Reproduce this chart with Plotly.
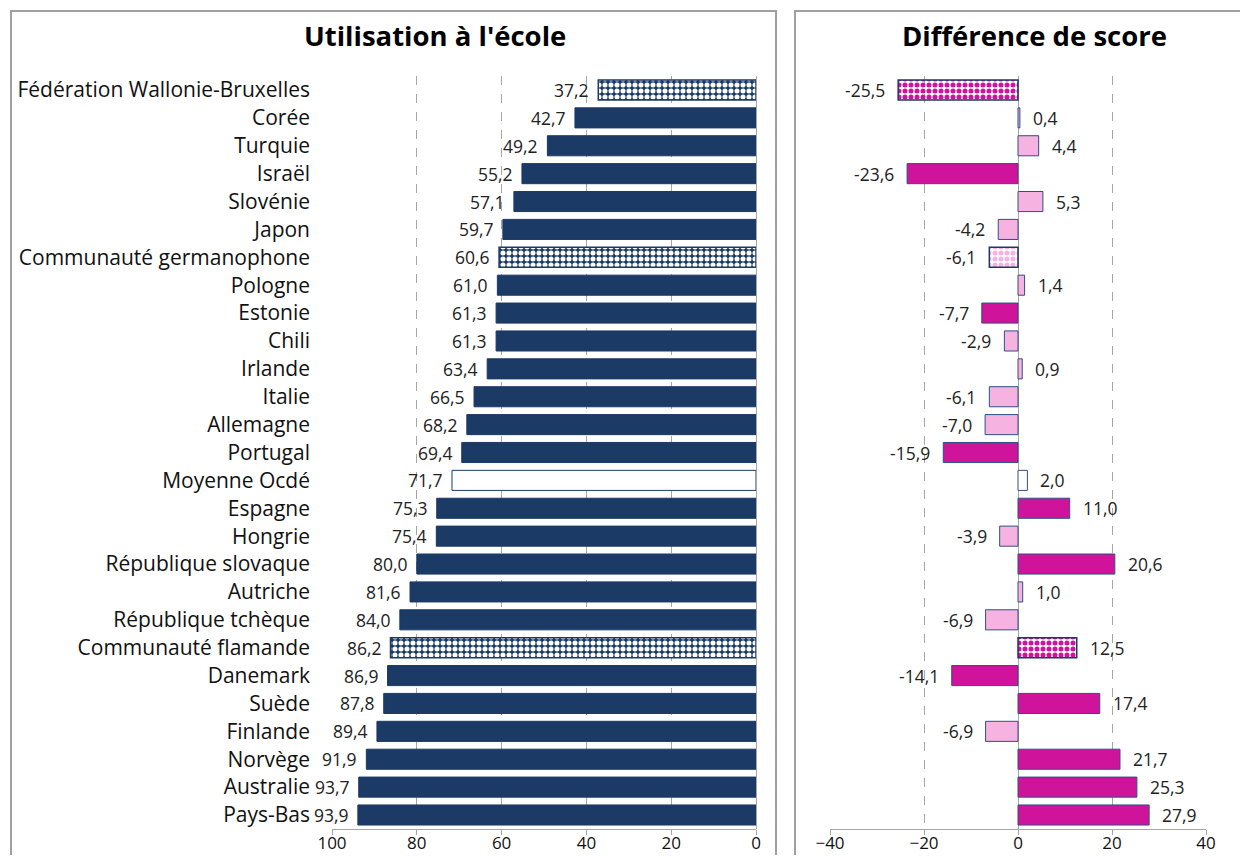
import plotly.graph_objects as go

countries = [
    "Fédération Wallonie-Bruxelles", "Corée", "Turquie", "Israël", "Slovénie", "Japon",
    "Communauté germanophone", "Pologne", "Estonie", "Chili", "Irlande", "Italie",
    "Allemagne", "Portugal", "Moyenne Ocdé", "Espagne", "Hongrie", "République slovaque",
    "Autriche", "République tchèque", "Communauté flamande", "Danemark", "Suède",
    "Finlande", "Norvège", "Australie", "Pays-Bas",
]
usage = [37.2, 42.7, 49.2, 55.2, 57.1, 59.7, 60.6, 61.0, 61.3, 61.3, 63.4, 66.5, 68.2, 69.4,
         71.7, 75.3, 75.4, 80.0, 81.6, 84.0, 86.2, 86.9, 87.8, 89.4, 91.9, 93.7, 93.9]
score_diff = [-25.5, 0.4, 4.4, -23.6, 5.3, -4.2, -6.1, 1.4, -7.7, -2.9, 0.9, -6.1, -7.0, -15.9,
              2.0, 11.0, -3.9, 20.6, 1.0, -6.9, 12.5, -14.1, 17.4, -6.9, 21.7, 25.3, 27.9]
significant = [True, False, False, True, False, False, False, False, True, False, False, False,
               False, True, False, True, False, True, False, False, True, True, True, False,
               True, True, True]
entity = ["belgium", "country", "country", "country", "country", "country", "belgium",
          "country", "country", "country", "country", "country", "country", "country", "oecd",
          "country", "country", "country", "country", "country", "belgium", "country",
          "country", "country", "country", "country", "country"]

NAVY = "#1B3A66"
MAGENTA = "#D0139B"
LIGHT = "#F6B3E1"
GRID = "#A6A6A6"
FONT = "Open Sans"
OFF = 8  # page body margin
W, H = 1248 - 2 * OFF, 863 - 2 * OFF


def fmt(v):
    return f"{v:.1f}".replace(".", ",")


def px_x(p):
    return (p - OFF) / W


def px_y(p):
    return 1 - (p - OFF) / H


ydom = [px_y(829), px_y(76)]
fig = go.Figure()

idx_c = [i for i, e in enumerate(entity) if e == "country"]
idx_b = [i for i, e in enumerate(entity) if e == "belgium"]
idx_o = [i for i, e in enumerate(entity) if e == "oecd"]

common = dict(orientation="h", width=0.72, showlegend=False, hoverinfo="skip")

# ---- left panel ----
fig.add_trace(go.Bar(x=[usage[i] for i in idx_c], y=[countries[i] for i in idx_c],
                     marker=dict(color=NAVY, line=dict(color=NAVY, width=1)),
                     xaxis="x", yaxis="y", **common))
fig.add_trace(go.Bar(x=[usage[i] for i in idx_b], y=[countries[i] for i in idx_b],
                     marker=dict(color=NAVY, line=dict(color=NAVY, width=1.5),
                                 pattern=dict(shape=".", fgcolor="white", bgcolor=NAVY,
                                              size=6, solidity=0.55, fillmode="replace")),
                     xaxis="x", yaxis="y", **common))
fig.add_trace(go.Bar(x=[usage[i] for i in idx_o], y=[countries[i] for i in idx_o],
                     marker=dict(color="white", line=dict(color=NAVY, width=1)),
                     xaxis="x", yaxis="y", **common))


# ---- right panel ----
def diff_color(i):
    if entity[i] == "oecd":
        return "white"
    return MAGENTA if significant[i] else LIGHT


fig.add_trace(go.Bar(x=[score_diff[i] for i in idx_c + idx_o],
                     y=[countries[i] for i in idx_c + idx_o],
                     marker=dict(color=[diff_color(i) for i in idx_c + idx_o],
                                 line=dict(color="#2F4F86", width=1)),
                     xaxis="x2", yaxis="y2", **common))
fig.add_trace(go.Bar(x=[score_diff[i] for i in idx_b], y=[countries[i] for i in idx_b],
                     marker=dict(color=[diff_color(i) for i in idx_b],
                                 line=dict(color=NAVY, width=1.5),
                                 pattern=dict(shape=".", fgcolor="white",
                                              bgcolor=[diff_color(i) for i in idx_b],
                                              size=6, solidity=0.55, fillmode="replace")),
                     xaxis="x2", yaxis="y2", **common))

annotations = []
for i, c in enumerate(countries):
    annotations.append(dict(x=usage[i], y=c, xref="x", yref="y", text=fmt(usage[i]),
                            showarrow=False, xanchor="right", yanchor="middle", xshift=-7,
                            font=dict(family=FONT, size=17.5, color="#222")))
    v = score_diff[i]
    annotations.append(dict(x=v, y=c, xref="x2", yref="y2", text=fmt(v), showarrow=False,
                            xanchor="left" if v >= 0 else "right", yanchor="middle",
                            xshift=11 if v >= 0 else -11,
                            font=dict(family=FONT, size=17.5, color="#222")))

annotations.append(dict(x=px_x(435), y=px_y(35), xref="paper", yref="paper",
                        xanchor="center", yanchor="middle",
                        text="<b>Utilisation à l'école</b>", showarrow=False,
                        font=dict(family=FONT, size=27.5, color="black")))
annotations.append(dict(x=px_x(1034), y=px_y(35), xref="paper", yref="paper",
                        xanchor="center", yanchor="middle",
                        text="<b>Différence de score</b>", showarrow=False,
                        font=dict(family=FONT, size=27.5, color="black")))

shapes = [
    dict(type="rect", xref="paper", yref="paper", x0=px_x(11), x1=px_x(776),
         y0=-0.05, y1=px_y(11), line=dict(color="#A0A0A0", width=2)),
    dict(type="rect", xref="paper", yref="paper", x0=px_x(795), x1=1.05,
         y0=-0.05, y1=px_y(11), line=dict(color="#A0A0A0", width=2)),
]

axis_common = dict(showline=True, linecolor=GRID, linewidth=1, ticks="outside",
                   ticklen=5, tickcolor=GRID, showgrid=True, gridcolor=GRID,
                   griddash="dash", gridwidth=1, automargin=False, ticklabelstandoff=-6,
                   tickfont=dict(family=FONT, size=17, color="#111"),
                   zeroline=True, zerolinecolor=GRID, zerolinewidth=1, fixedrange=True)

fig.update_layout(
    width=W, height=H,
    margin=dict(l=0, r=0, t=0, b=0, autoexpand=False),
    paper_bgcolor="white", plot_bgcolor="white",
    barmode="overlay",
    xaxis=dict(domain=[px_x(332), px_x(756)], range=[100, 0], tickvals=[0, 20, 40, 60, 80, 100],
               anchor="y", **axis_common),
    yaxis=dict(domain=ydom, autorange="reversed", categoryorder="array",
               categoryarray=countries, anchor="x", showline=False, ticks="",
               ticklabelstandoff=21, automargin=False,
               tickfont=dict(family=FONT, size=21, color="#111"),
               showgrid=False, fixedrange=True),
    xaxis2=dict(domain=[px_x(830), px_x(1206)], range=[-40, 40],
                tickvals=[-40, -20, 0, 20, 40], anchor="y2", **axis_common),
    yaxis2=dict(domain=ydom, autorange="reversed", categoryorder="array",
                categoryarray=countries, anchor="x2", showticklabels=False, ticks="",
                showgrid=False, showline=False, automargin=False, fixedrange=True),
    annotations=annotations,
    shapes=shapes,
)

fig.write_html("out.html")
